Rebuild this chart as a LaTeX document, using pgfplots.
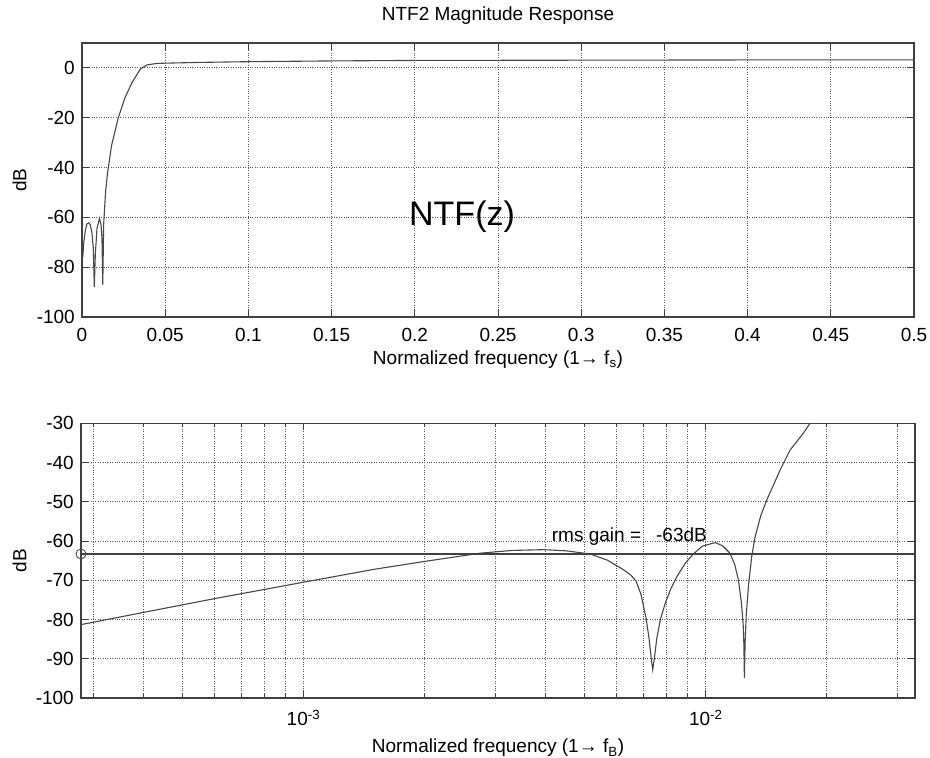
\documentclass[border=0pt]{standalone}
\usepackage{pgfplots}
\pgfplotsset{compat=1.18}
\usepackage{fontspec}
\setmainfont{Liberation Sans}
\pgfplotsset{
  mystyle/.style={
    scale only axis,
    anchor=south west,
    axis line style={draw=black!75, line width=1.1pt},
    every tick/.style={draw=black!75, line width=0.9pt},
    major tick length=7pt, minor tick length=4pt,
    tick align=inside,
    major grid style={dotted, black!65, line width=0.9pt},
    minor grid style={dotted, black!65, line width=0.9pt},
    font=\fontsize{19}{22}\selectfont,
    tick label style={font=\fontsize{19}{22}\selectfont},
    xticklabel style={inner sep=0pt, anchor=north, yshift=-11pt},
    yticklabel style={inner sep=0pt, anchor=east, xshift=-7pt},
  },
  curve/.style={draw=black!72, line width=1.1pt, mark=none},
}
\pgfplotstableread{
f db
0.0005 -76
0.001 -70.5
0.002 -65.2
0.003 -62.6
0.004 -62.2
0.005 -63.0
0.006 -66.3
0.0068 -72.5
0.0074 -88
0.008 -75
0.009 -64.5
0.0105 -60.4
0.0115 -63.2
0.012 -68.5
0.0125 -87
0.013 -63
0.0142 -49.5
0.0154 -41.9
0.0178 -31
0.0218 -20
0.0258 -12
0.030 -6
0.035 -0.5
0.039 1.2
0.045 1.8
0.05 1.9
0.07 2.2
0.1 2.5
0.15 2.8
0.2 3.0
0.3 3.1
0.4 3.2
0.5 3.2
}\toptable
\pgfplotstableread{
f db
2.8e-4 -81.3
4e-4 -78.2
6e-4 -74.7
1e-3 -70.5
1.5e-3 -67.2
2e-3 -65.2
2.4e-3 -64.0
2.75e-3 -63.1
3.3e-3 -62.4
3.95e-3 -62.2
4.5e-3 -62.5
5.16e-3 -63.3
5.7e-3 -64.9
6.24e-3 -67.3
6.5e-3 -68.6
6.71e-3 -70.2
6.9e-3 -73.6
7.1e-3 -79.5
7.22e-3 -84.5
7.32e-3 -90
7.38e-3 -92.8
7.45e-3 -90
7.55e-3 -85
7.71e-3 -80
7.95e-3 -75.5
8.2e-3 -72
8.48e-3 -69
8.9e-3 -65.6
9.31e-3 -63.3
9.8e-3 -61.3
1.055e-2 -60.4
1.1e-2 -61.2
1.148e-2 -63.1
1.18e-2 -66
1.205e-2 -69.9
1.225e-2 -75.5
1.238e-2 -81
1.243e-2 -86
1.247e-2 -94.9
1.252e-2 -86
1.26e-2 -79
1.276e-2 -71.6
1.3e-2 -64
1.326e-2 -58.9
1.37e-2 -53.5
1.418e-2 -49.5
1.53e-2 -41.9
1.62e-2 -36.8
1.748e-2 -32.5
1.816e-2 -30
1.9e-2 -27.5
}\bottable
\begin{document}
\begin{tikzpicture}
\useasboundingbox (0,0) rectangle (930pt,758pt);
\begin{axis}[mystyle,
  at={(82pt,441pt)}, width=832pt, height=274pt,
  xmin=0, xmax=0.5, ymin=-100, ymax=10,
  xtick={0,0.05,0.1,0.15,0.2,0.25,0.3,0.35,0.4,0.45,0.5},
  xticklabels={0,0.05,0.1,0.15,0.2,0.25,0.3,0.35,0.4,0.45,0.5},
  ytick={-100,-80,-60,-40,-20,0},
  yticklabels={-100,-80,-60,-40,-20,0},
  grid=major,
  title={NTF2 Magnitude Response},
  title style={at={(0.5,1)}, anchor=base, inner sep=0pt, yshift=16pt},
  xlabel={Normalized frequency (1→ f\textsubscript{s})},
  xlabel style={at={(0.5,0)}, anchor=base, inner sep=0pt, yshift=-48pt},
  ylabel={dB},
  ylabel style={at={(-0.0751,0.5)}, anchor=center, inner sep=0pt},
]
\addplot[curve] table[x=f, y=db] {\toptable};
\node[anchor=base west, inner sep=0pt, font=\fontsize{34}{40}\selectfont] at (axis cs:0.1965,-63.2) {NTF(z)};
\end{axis}
\begin{axis}[mystyle, xmode=log,
  at={(81pt,60pt)}, width=834pt, height=274.7pt,
  xmin=2.8e-4, xmax=0.0331, ymin=-100, ymax=-30,
  xtick={1e-3,1e-2},
  xticklabels={10\textsuperscript{-3},10\textsuperscript{-2}},
  minor xtick={3e-4,4e-4,5e-4,6e-4,7e-4,8e-4,9e-4,2e-3,3e-3,4e-3,5e-3,6e-3,7e-3,8e-3,9e-3,2e-2,3e-2},
  ytick={-100,-90,-80,-70,-60,-50,-40,-30},
  yticklabels={-100,-90,-80,-70,-60,-50,-40,-30},
  grid=both,
  xticklabel style={yshift=-1pt},
  xlabel={Normalized frequency (1→ f\textsubscript{B})},
  xlabel style={at={(0.5,0)}, anchor=base, inner sep=0pt, yshift=-55pt},
  ylabel={dB},
  ylabel style={at={(-0.0737,0.5)}, anchor=center, inner sep=0pt},
]
\addplot[curve] table[x=f, y=db] {\bottable};
\addplot[draw=black!75, line width=1.1pt, mark=none] coordinates {(2.8e-4,-63.3) (0.0331,-63.3)};
\addplot[only marks, mark=o, mark size=5pt, draw=black!70, mark options={line width=0.9pt}] coordinates {(2.8e-4,-63.3)};
\node[anchor=base west, inner sep=0pt] at (axis cs:4.14e-3,-60) {rms gain =\hspace{15pt}-63dB};
\end{axis}
\end{tikzpicture}
\end{document}
